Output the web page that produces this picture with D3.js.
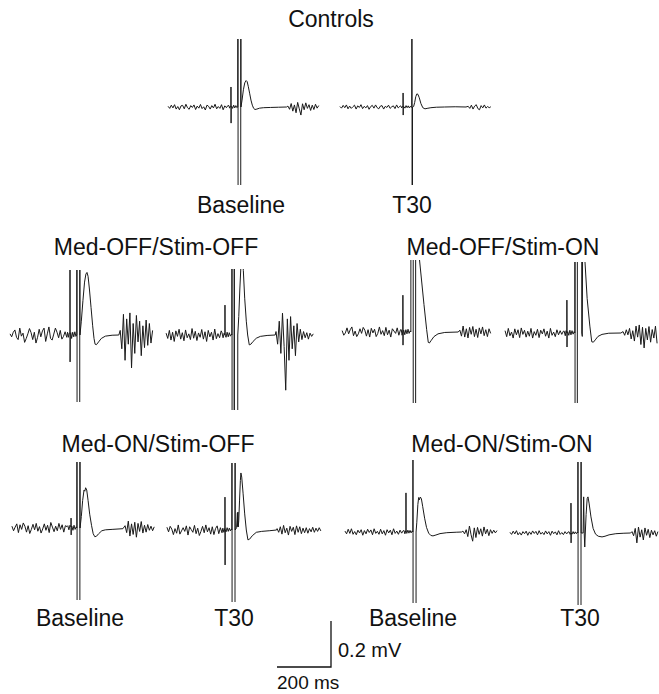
<!DOCTYPE html>
<html>
<head>
<meta charset="utf-8">
<script src="https://cdn.jsdelivr.net/npm/d3@7"></script>
<style>
  body { margin: 0; background: #fff; }
  text { font-family: "Liberation Sans", Arial, sans-serif; fill: #111; }
</style>
</head>
<body>
<svg id="chart" width="659" height="694"></svg>
<script>
// EMG traces, time in ms (stimulus at 0), amplitude in microvolts
const BIG = 2000;   // saturated stimulus artifact
const STEP = 6;     // ms between noise samples

const titles = ["Controls", "Med-OFF/Stim-OFF", "Med-OFF/Stim-ON", "Med-ON/Stim-OFF", "Med-ON/Stim-ON"];
const sessions = ["Baseline", "T30"];

// start time (ms) of pre-stimulus noise and of post-response noise, per trace
const preStart  = [-259, -267, -248, -244, -255, -259, -241, -241, -252, -252];
const postStart = [185, 208, 160, 163, 181, 178, 178, 167, 185, 200];

// --- Controls / Baseline
const ctrlBasePre = [3,-6,8,-4,10,-9,2,-12,5,7,-8,12,-3,-10,6,-2,9,-11,4,-5,11,-7,1,-13,8,3,-9,6,-4,12,-8,2,-6,10,-12,5,-3,7];
const ctrlBaseResp = [[-34,6],[-31,-5],[-28,4],[-26.2,2],[-26,87],[-25.6,-70],[-25.2,2],[-23,3],[-20,-6],[-16,8],[-12,-4],[-8,6],[-4,-3],[-1,0],
  [0,BIG],[0.4,-BIG],[10,-BIG],[10.4,BIG],[11,0],[15,30],[20,75],[25,105],[30,115],[34,110],[38,90],[43,60],[48,30],[53,8],[58,-6],[63,-11],[70,-9],[80,-5],[95,-3],[120,-2],[150,-1],[180,0]];
const ctrlBasePost = [4,-10,15,-18,9,-25,20,-8,-35,14,-12,18,-6,10,-15,8,-11,12,-5,6];

// --- Controls / T30
const ctrlT30Pre = [2,-5,7,-3,9,-8,4,-6,1,8,-9,5,-2,10,-7,3,-4,6,-10,2,7,-5,9,-3,-8,4,6,-9,3,-2,8,-6,1,5,-7,9,-4,3];
const ctrlT30Resp = [[-42,5],[-38,-4],[-35,3],[-33.2,1],[-33,61],[-32.6,-35],[-32.2,1],[-30,2],[-26,-5],[-22,6],[-18,-3],[-14,5],[-10,-4],[-6,3],[-3,-2],[-1,0],
  [0,BIG],[0.4,-BIG],[1.5,-BIG],[1.9,0],[6,2],[10,20],[14,45],[18,57],[22,55],[27,40],[33,15],[40,-3],[48,-8],[56,-6],[70,-3],[90,-1],[120,0],[160,1],[200,0]];
const ctrlT30Post = [3,-6,8,-9,4,10,-7,-12,6,-4,9,-5,2,-3,1];

// --- Med-OFF/Stim-OFF / Baseline
const offOffBasePre = [5,-8,12,22,-10,-20,30,-5,8,-32,-15,5,28,10,-20,12,-35,-10,25,-8,18,30,-28,5,35,-15,-22,4,30,12,-12,20,-18,-6,14,-10];
const offOffBaseResp = [[-35,12],[-32,-10],[-29,8],[-26.2,8],[-26,BIG],[-25.6,-117],[-25,5],[-23,10],[-20,-15],[-16,12],[-12,-8],[-8,14],[-4,-6],[-1,0],
  [0,BIG],[0.4,-BIG],[10,-BIG],[10.4,BIG],[11,0],[16,60],[22,150],[28,230],[33,265],[37,272],[41,255],[46,200],[52,120],[58,40],[63,-15],[67,-40],[72,-42],[80,-30],[90,-15],[105,-5],[130,-1],[155,0]];
const offOffBasePost = [20,-60,90,-110,70,-40,96,-143,50,-80,85,-30,60,-90,40,-55,65,-45,50,-35,20];

// --- Med-OFF/Stim-OFF / T30
const offOffT30Pre = [8,-15,20,-22,12,-28,18,-6,25,-18,10,-25,22,-12,5,-20,28,-14,16,-24,9,-10,24,-18,14,-28,20,-8,12,-22,26,-16,6,-12,18];
const offOffT30Resp = [[-37,10],[-33,-12],[-29,8],[-26.2,0],[-26,130],[-25.6,0],[-22,-10],[-18,12],[-14,-8],[-10,10],[-6,-5],[-2,4],[-0.5,0],
  [0,BIG],[0.4,-BIG],[8,-BIG],[8.4,BIG],[8.8,-BIG],[21,-BIG],[21.4,0],[25,80],[29,200],[33,300],[36,380],[40,320],[42,280],[47,160],[53,60],[58,0],[64,-43],[70,-40],[78,-28],[90,-14],[105,-6],[130,-2],[160,0]];
const offOffT30Post = [15,-40,60,-80,95,-50,-240,70,-110,80,-60,40,-90,50,-30,25,-20,15,-12,10,-18,8,-6,5];

// --- Med-OFF/Stim-ON / Baseline
const offOnBasePre = [6,-14,-4,18,-8,10,22,-16,4,-20,-8,14,-6,20,8,-18,10,-22,16,-4,12,-20,-6,22,-10,6,-16,20,-12,8,-22,14,4,-6,18,-14,10];
const offOnBaseResp = [[-36,10],[-33,-14],[-30.2,0],[-30,160],[-29.6,-57],[-29.2,0],[-27,8],[-23,-12],[-19,10],[-15,-8],[-11,12],[-7,-6],[-3,5],[-0.5,0],
  [0,BIG],[8,BIG],[8.4,-BIG],[17,-BIG],[17.4,BIG],[24,800],[31,320],[48,120],[58,10],[64,-45],[68,-48],[74,-38],[85,-20],[100,-8],[125,-2],[175,0]];
const offOnBasePost = [8,-18,26,-22,14,-26,20,-10,24,-20,12,-24,18,-8,22,-16,10,-20,14,-6];

// --- Med-OFF/Stim-ON / T30
const offOnT30Pre = [10,-16,20,-12,4,-22,18,-8,14,-20,22,-6,12,-18,8,-14,20,-22,6,-10,16,-20,12,-4,18,-14,8,-22,20,-10,4,-16,14,-8,10,-6,8];
const offOnT30Resp = [[-40,8],[-36,-12],[-33,10],[-30.2,0],[-30,143],[-29.6,-61],[-29.2,0],[-27,6],[-23,-10],[-19,12],[-15,-8],[-11,10],[-7,-5],[-3,6],[-0.5,0],
  [0,BIG],[0.4,-BIG],[8.5,-BIG],[8.9,BIG],[24.5,BIG],[25,0],[27,-15],[33,BIG],[35,600],[37,309],[45,150],[55,30],[62,-38],[68,-40],[75,-30],[85,-15],[100,-6],[125,-1],[170,0]];
const offOnT30Post = [6,-10,14,-8,20,-26,10,-35,30,-18,35,-50,25,-65,20,-30,28,-40,15,-22,30,-45];

// --- Med-ON/Stim-OFF / Baseline
const onOffBasePre = [8,-12,4,18,-20,14,-6,22,8,-18,10,-24,-6,16,-8,20,-14,6,-22,-4,18,-10,12,-20,24,4,-16,8,-12,20,-6,14,-18,10,6];
const onOffBaseResp = [[-34,10],[-30,-8],[-26,12],[-22.2,5],[-22,43],[-21.6,-30],[-21.2,4],[-19,8],[-15,-10],[-11,12],[-7,-6],[-3,5],[-0.5,0],
  [0,BIG],[0.4,-BIG],[10.5,-BIG],[10.9,BIG],[11.3,0],[16,50],[21,120],[26,165],[29,160],[32,175],[36,165],[41,120],[47,60],[54,10],[60,-25],[66,-38],[72,-36],[80,-25],[92,-12],[105,-8],[130,-6],[170,-3]];
const onOffBasePost = [10,-20,30,-35,18,-28,25,-40,20,-15,28,-22,12,-18,15,-10,8,-12,5];

// --- Med-ON/Stim-OFF / T30
const onOffT30Pre = [12,-8,16,4,-20,6,-14,22,-18,-4,10,-6,18,-22,14,2,-10,20,-16,8,-24,-6,16,-12,22,-8,10,-18,14,-20,6,18,-16,10,-12];
const onOffT30Resp = [[-34,8],[-30,-10],[-27,6],[-26.2,0],[-26,143],[-25.6,-152],[-25.2,0],[-22,-8],[-18,10],[-14,-6],[-10,8],[-6,-4],[-2,5],[-0.5,0],
  [0,BIG],[0.4,-BIG],[11,-BIG],[11.4,BIG],[11.8,0],[17,10],[20,75],[21,15],[22,78],[23,13],[25,40],[28,130],[31,215],[33,248],[36,230],[41,160],[47,70],[53,0],[59,-43],[65,-40],[75,-25],[90,-10],[110,-6],[140,-3],[165,0]];
const onOffT30Post = [6,-10,14,-18,20,-12,8,-22,16,-6,12,-20,18,-10,14,-16,8,-12,10,-14,6,-8,12,-10,8,-6,10,-4];

// --- Med-ON/Stim-ON / Baseline
const onOnBasePre = [4,-8,12,-6,14,-10,2,-12,8,-4,10,-14,6,-8,12,-2,9,-12,14,-6,3,-10,12,-8,6,-14,10,-4,8,-12,14,-6,4,-10,8,-5,6];
const onOnBaseResp = [[-33,6],[-30,-8],[-27,5],[-26.2,0],[-26,170],[-25.6,0],[-23,-6],[-19,8],[-15,-5],[-11,7],[-7,-4],[-3,5],[-0.5,0],
  [0,BIG],[0.4,-BIG],[11,-BIG],[11.4,0],[14,40],[18,120],[21,150],[24,140],[27,152],[31,145],[36,110],[43,60],[50,20],[58,-5],[66,-15],[74,-17],[85,-13],[100,-7],[125,-3],[160,-1],[180,0]];
const onOnBasePost = [4,-8,10,-20,26,-12,-40,18,-24,20,-10,14,-18,22,-8,12,-16,10,-6,8,-4,6];

// --- Med-ON/Stim-ON / T30
const onOnT30Pre = [3,-6,8,-4,10,-8,2,-9,6,-3,8,-10,5,-6,9,-2,7,-8,10,-5,3,-7,9,-4,6,-10,8,-3,5,-8,10,-6,2,-7,6,-4,5];
const onOnT30Resp = [[-33,5],[-29,-6],[-26.2,0],[-26,130],[-25.6,-43],[-25.2,0],[-22,-5],[-18,6],[-14,-4],[-10,5],[-6,-3],[-2,4],[-0.5,0],
  [0,BIG],[0.4,-BIG],[11,-BIG],[11.4,BIG],[11.8,0],[19,0],[21,157],[23,0],[25,-61],[27,0],[30,80],[34,150],[37,157],[41,130],[48,70],[56,20],[65,-5],[75,-14],[89,-17],[100,-14],[115,-8],[140,-3],[170,-1],[195,0]];
const onOnT30Post = [6,-12,20,-43,26,-18,14,-30,22,-10,16,-20,12,-8,10,-14,6];

const preNoise  = [ctrlBasePre, ctrlT30Pre, offOffBasePre, offOffT30Pre, offOnBasePre, offOnT30Pre, onOffBasePre, onOffT30Pre, onOnBasePre, onOnT30Pre];
const responses = [ctrlBaseResp, ctrlT30Resp, offOffBaseResp, offOffT30Resp, offOnBaseResp, offOnT30Resp, onOffBaseResp, onOffT30Resp, onOnBaseResp, onOnT30Resp];
const postNoise = [ctrlBasePost, ctrlT30Post, offOffBasePost, offOffT30Post, offOnBasePost, offOnT30Post, onOffBasePost, onOffT30Post, onOnBasePost, onOnT30Post];

// layout: stimulus x, baseline y, visible range above/below baseline (px)
const panels = [
  {cx: 238, cy: 107, up: 68, down: 78},
  {cx: 412, cy: 107, up: 68, down: 78},
  {cx: 77,  cy: 335, up: 65, down: 67},
  {cx: 232, cy: 335, up: 66, down: 75},
  {cx: 411, cy: 332, up: 72, down: 71},
  {cx: 575, cy: 333, up: 71, down: 70},
  {cx: 77,  cy: 528, up: 66, down: 72},
  {cx: 232, cy: 530, up: 67, down: 72},
  {cx: 413, cy: 532, up: 72, down: 71},
  {cx: 578, cy: 533, up: 71, down: 72}
];
const titlePos = [[331, 27], [156, 255], [503, 255], [158, 452], [502, 452]];
const sessionPos = [[241, 213, 0], [412, 213, 1], [80, 626, 0], [234, 626, 1], [413, 626, 0], [580, 626, 1]];

const svg = d3.select("#chart");
svg.append("rect").attr("width", 659).attr("height", 694).attr("fill", "#fff");

// 200 ms = 54 px, 200 uV = 46 px
const x = d3.scaleLinear().domain([0, 200]).range([0, 54]);
const y = d3.scaleLinear().domain([0, 200]).range([0, -46]);

const line = d3.line().x(d => x(d[0])).y(d => y(d[1]));

const defs = svg.append("defs");

panels.forEach(function(p, i) {
  const pts = [];
  preNoise[i].forEach((v, k) => pts.push([preStart[i] + k * STEP, v]));
  responses[i].forEach(d => pts.push(d));
  postNoise[i].forEach((v, k) => pts.push([postStart[i] + k * STEP, v]));

  defs.append("clipPath").attr("id", "clip" + i)
    .append("rect")
    .attr("x", -120).attr("y", -p.up)
    .attr("width", 240).attr("height", p.up + p.down);

  const g = svg.append("g").attr("transform", "translate(" + p.cx + "," + p.cy + ")");
  g.append("path")
    .datum(pts)
    .attr("clip-path", "url(#clip" + i + ")")
    .attr("d", line)
    .attr("fill", "none")
    .attr("stroke", "#1a1a1a")
    .attr("stroke-width", 1)
    .attr("stroke-linejoin", "round");
});

svg.selectAll("text.title")
  .data(titles)
  .join("text")
  .attr("class", "title")
  .attr("x", (d, i) => titlePos[i][0])
  .attr("y", (d, i) => titlePos[i][1])
  .attr("text-anchor", "middle")
  .attr("font-size", 23)
  .text(d => d);

svg.selectAll("text.session")
  .data(sessionPos)
  .join("text")
  .attr("class", "session")
  .attr("x", d => d[0])
  .attr("y", d => d[1])
  .attr("text-anchor", "middle")
  .attr("font-size", 23)
  .text(d => sessions[d[2]]);

// scale bar
const bar = svg.append("g").attr("transform", "translate(331,667)");
bar.append("path")
  .attr("d", "M" + x(-200) + "," + y(0) + "H" + x(0) + "V" + y(200))
  .attr("fill", "none")
  .attr("stroke", "#111")
  .attr("stroke-width", 1.3);
bar.append("text")
  .attr("x", x(0) + 7).attr("y", y(200) + 36)
  .attr("font-size", 20)
  .text("0.2 mV");
bar.append("text")
  .attr("x", x(-200)).attr("y", 22)
  .attr("font-size", 19)
  .text("200 ms");
</script>
</body>
</html>
